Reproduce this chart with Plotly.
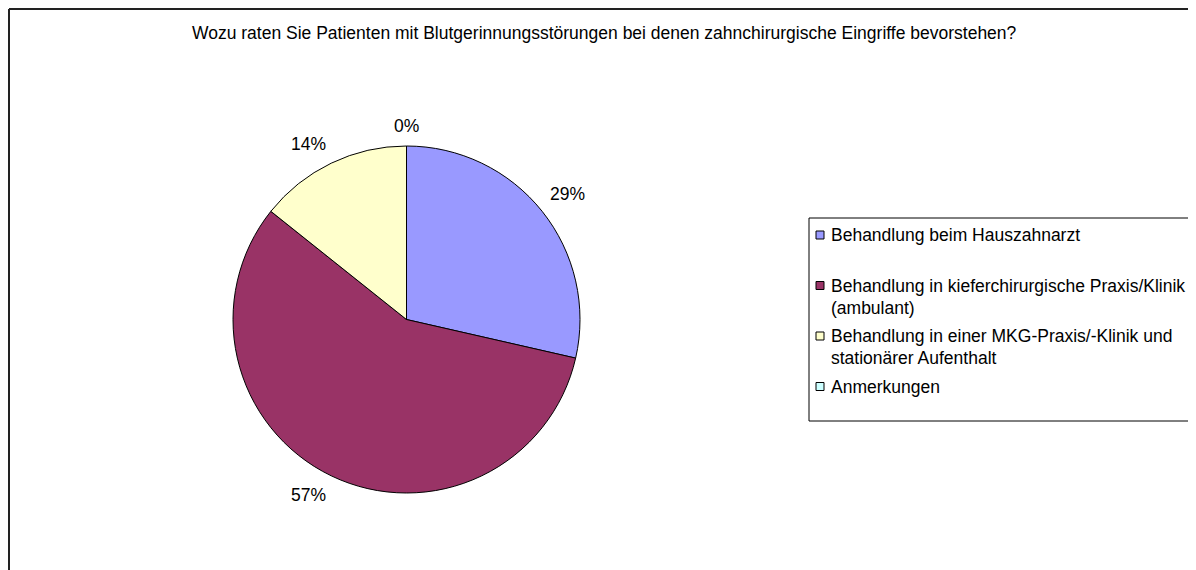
import math
import plotly.graph_objects as go

# ---------------- data ----------------
title_text = ("Wozu raten Sie Patienten mit Blutgerinnungsstörungen bei denen "
              "zahnchirurgische Eingriffe bevorstehen?")
categories = [
    "Behandlung beim Hauszahnarzt",
    "Behandlung in kieferchirurgische Praxis/Klinik (ambulant)",
    "Behandlung in einer MKG-Praxis/-Klinik und stationärer Aufenthalt",
    "Anmerkungen",
]
legend_lines = [
    ["Behandlung beim Hauszahnarzt"],
    ["Behandlung in kieferchirurgische Praxis/Klinik", "(ambulant)"],
    ["Behandlung in einer MKG-Praxis/-Klinik und", "stationärer Aufenthalt"],
    ["Anmerkungen"],
]
values = [2, 4, 1, 0]
colors = ["#9999FF", "#993366", "#FFFFCC", "#CCFFFF"]

# ---------------- layout helpers ----------------
W, H = 1196, 570
OFF = 8  # page body margin
FONT = "Arial, Liberation Sans, sans-serif"
FS = 17.5


def px(x):
    return (x - OFF) / W


def py(y):
    return 1 - (y - OFF) / H


cx, cy, r = 406.5, 319.5, 173.5

fig = go.Figure(
    go.Pie(
        values=values,
        labels=categories,
        marker=dict(colors=colors, line=dict(color="black", width=1)),
        sort=False,
        direction="clockwise",
        rotation=0,
        textinfo="none",
        hoverinfo="label+percent",
        showlegend=False,
        domain=dict(x=[px(cx - r), px(cx + r)], y=[py(cy + r), py(cy - r)]),
    )
)

# percentage labels outside the slices, positioned from the slice angles
total = sum(values)
cum = 0
for v in values:
    mid = (cum + v / 2) / total * 2 * math.pi
    cum += v
    s, c = math.sin(mid), math.cos(mid)
    d = r + 8
    ax, ay = cx + d * s, cy - d * c
    xanchor = "center" if abs(s) < 0.1 else ("left" if s > 0 else "right")
    yanchor = "middle" if abs(c) < 0.1 else ("bottom" if c > 0 else "top")
    fig.add_annotation(
        x=px(ax), y=py(ay), xref="paper", yref="paper",
        text=f"{round(100 * v / total)}%", showarrow=False,
        xanchor=xanchor, yanchor=yanchor,
        font=dict(family=FONT, size=FS, color="black"),
    )

# title
fig.add_annotation(
    x=px(604.5), y=py(33), xref="paper", yref="paper", text=title_text,
    showarrow=False, xanchor="center", yanchor="middle",
    font=dict(family=FONT, size=FS, color="black"),
)

# legend box
lx0, ly0, lx1, ly1 = 809, 218, 1195, 421
fig.add_shape(type="rect", xref="paper", yref="paper",
              x0=px(lx0), x1=px(lx1), y0=py(ly1), y1=py(ly0),
              line=dict(color="black", width=1), fillcolor="rgba(0,0,0,0)")
entry_y0, entry_step, line_h = 235, 50.5, 22
for i, (lines, col) in enumerate(zip(legend_lines, colors)):
    ey = entry_y0 + i * entry_step
    fig.add_shape(type="rect", xref="paper", yref="paper",
                  x0=px(816), x1=px(824), y0=py(ey + 4), y1=py(ey - 4),
                  line=dict(color="black", width=1), fillcolor=col)
    for j, t in enumerate(lines):
        fig.add_annotation(
            x=px(829), y=py(ey + j * line_h), xref="paper", yref="paper",
            text=t, showarrow=False, xanchor="left", yanchor="middle",
            font=dict(family=FONT, size=FS, color="black"),
        )

# chart area border (top and left edges visible)
fig.add_shape(type="line", xref="paper", yref="paper",
              x0=px(9), x1=px(1210), y0=py(9), y1=py(9),
              line=dict(color="#222222", width=2))
fig.add_shape(type="line", xref="paper", yref="paper",
              x0=px(9), x1=px(9), y0=py(9), y1=py(600),
              line=dict(color="#222222", width=2))

fig.update_layout(
    width=W, height=H,
    margin=dict(l=0, r=0, t=0, b=0),
    paper_bgcolor="white", plot_bgcolor="white",
    showlegend=False,
)

fig.write_html("out.html")
